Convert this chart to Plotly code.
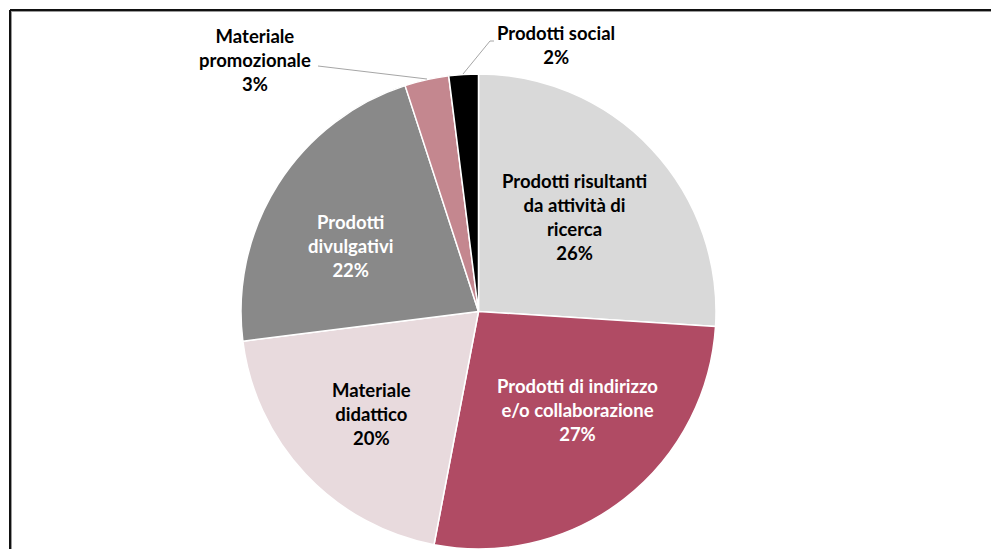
import plotly.graph_objects as go

labels = [
    "Prodotti risultanti da attività di ricerca",
    "Prodotti di indirizzo e/o collaborazione",
    "Materiale didattico",
    "Prodotti divulgativi",
    "Materiale promozionale",
    "Prodotti social",
]
values = [26, 27, 20, 22, 3, 2]
label_text = [
    "Prodotti risultanti<br>da attività di<br>ricerca<br>26%",
    "Prodotti di indirizzo<br>e/o collaborazione<br>27%",
    "Materiale<br>didattico<br>20%",
    "Prodotti<br>divulgativi<br>22%",
    "Materiale<br>promozionale<br>3%",
    "Prodotti social<br>2%",
]
colors = ["#d9d9d9", "#b04b64", "#e8dadd", "#898989", "#c4878f", "#000000"]
label_colors = ["#000000", "#ffffff", "#000000", "#ffffff", "#000000", "#000000"]
# label centre positions in pixels
label_px = [(574, 217), (577, 410), (371, 414), (350, 246), (255, 60), (556, 45)]

W, H = 991, 549
FONT = "Lato"

fig = go.Figure(
    go.Pie(
        labels=labels,
        values=values,
        sort=False,
        direction="clockwise",
        rotation=0,
        marker=dict(colors=colors, line=dict(color="#ffffff", width=1.5)),
        textinfo="none",
        hoverinfo="skip",
        showlegend=False,
        domain=dict(x=[240 / W, 717 / W], y=[0, 1 - 74 / H]),
    )
)

annotations = []
for txt, col, (px, py) in zip(label_text, label_colors, label_px):
    annotations.append(
        dict(
            text=f"<b>{txt}</b>",
            x=px / W,
            y=1 - py / H,
            xref="paper",
            yref="paper",
            xanchor="center",
            yanchor="middle",
            showarrow=False,
            font=dict(family=FONT, size=18.5, color=col),
            align="center",
        )
    )

def px_line(x0, y0, x1, y1, color, width):
    return dict(
        type="line",
        xref="paper",
        yref="paper",
        x0=x0 / W,
        y0=1 - y0 / H,
        x1=x1 / W,
        y1=1 - y1 / H,
        line=dict(color=color, width=width),
    )

shapes = [
    # leader lines
    px_line(318, 66, 427, 79, "#a6a6a6", 1),
    px_line(463, 74, 490, 41, "#a6a6a6", 1),
    px_line(490, 41, 494, 41, "#a6a6a6", 1),
    # frame
    px_line(10, 11.5, W, 11.5, "#9a9a9a", 1),
    px_line(11.5, 11, 11.5, H, "#9a9a9a", 1),
    px_line(10, 10, W, 10, "#111111", 2),
    px_line(10, 10, 10, H, "#111111", 2),
]

fig.update_layout(
    width=W,
    height=H,
    margin=dict(l=0, r=0, t=0, b=0),
    paper_bgcolor="#ffffff",
    plot_bgcolor="#ffffff",
    annotations=annotations,
    shapes=shapes,
    font=dict(family=FONT),
)

fig.write_html(
    "out.html",
    config={"displayModeBar": False, "staticPlot": True},
    post_script="document.body.style.margin='0';document.body.style.overflow='hidden';",
)
